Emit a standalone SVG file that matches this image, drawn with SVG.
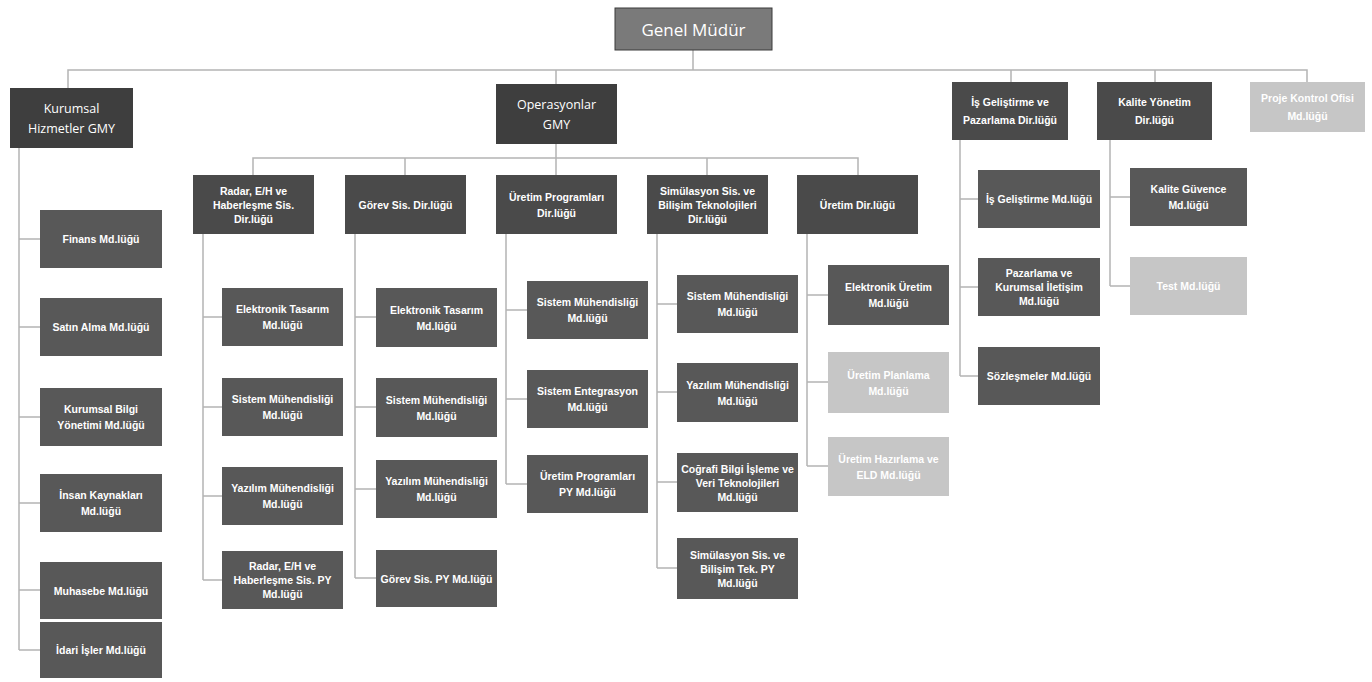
<svg xmlns="http://www.w3.org/2000/svg" width="1372" height="682" viewBox="0 0 1372 682">
<style>
.bg{fill:#ffffff}
.gm{fill:#7a7a7a;stroke:#3a3a3a;stroke-width:1}
.top{fill:#3e3e3e}
.dir{fill:#4a4a4a}
.md{fill:#585858}
.lt{fill:#c6c6c6}
.c{fill:none;stroke:#b4b4b4;stroke-width:1.5}
text{font-family:"Liberation Sans",Arial,sans-serif;font-weight:bold;fill:#ffffff;text-anchor:middle;dominant-baseline:central}
.t17{font-size:17px;font-weight:normal;font-family:"Open Sans","Liberation Sans",sans-serif}
.t12{font-size:12.5px;font-weight:normal;font-family:"Open Sans","Liberation Sans",sans-serif}
.t10{font-size:10.5px}
</style>
<rect class="bg" x="0" y="0" width="1372" height="682"/>

<g id="connectors">
<path class="c" d="M693,50 V70 M68,88 V70 H1307 V82 M556,70 V84 M1011,70 V82 M1155,70 V82"/>
<path class="c" d="M556,144 V158 M253,175 V158 H858 V175 M405,158 V175 M556,158 V175 M707,158 V175"/>
<path class="c" d="M19,148 V650 M19,239 H40 M19,327 H40 M19,417 H40 M19,503 H40 M19,590 H40 M19,650 H40"/>
<path class="c" d="M203,234 V580 M203,317 H222 M203,407 H222 M203,496 H222 M203,580 H222"/>
<path class="c" d="M355,234 V578 M355,317 H376 M355,407 H376 M355,489 H376 M355,578 H376"/>
<path class="c" d="M506,234 V484 M506,310 H527 M506,399 H527 M506,484 H527"/>
<path class="c" d="M657,234 V568 M657,304 H677 M657,392 H677 M657,482 H677 M657,568 H677"/>
<path class="c" d="M807,234 V466 M807,295 H828 M807,382 H828 M807,466 H828"/>
<path class="c" d="M960,140 V376 M960,199 H978 M960,287 H978 M960,376 H978"/>
<path class="c" d="M1110,140 V286 M1110,197 H1130 M1110,286 H1130"/>
</g>

<g id="genel-mudur"><rect class="gm" x="615" y="8" width="157" height="42"/><text class="t17" x="693.5" y="29">Genel Müdür</text></g>

<g id="kurumsal-gmy"><rect class="top" x="10" y="88" width="123" height="60"/><text class="t12" x="71.5" y="108">Kurumsal</text><text class="t12" x="71.5" y="128">Hizmetler GMY</text></g>
<g id="operasyonlar-gmy"><rect class="top" x="496" y="84" width="121" height="60"/><text class="t12" x="556.5" y="104">Operasyonlar</text><text class="t12" x="556.5" y="124">GMY</text></g>
<g id="is-gelistirme-dir"><rect class="dir" x="952" y="82" width="116" height="58"/><text class="t10" x="1010" y="102">İş Geliştirme ve</text><text class="t10" x="1010" y="120">Pazarlama Dir.lüğü</text></g>
<g id="kalite-dir"><rect class="dir" x="1097" y="82" width="115" height="58"/><text class="t10" x="1154.5" y="102">Kalite Yönetim</text><text class="t10" x="1154.5" y="120">Dir.lüğü</text></g>
<g id="proje-kontrol"><rect class="lt" x="1250" y="82" width="115" height="50"/><text class="t10" x="1307.5" y="98">Proje Kontrol Ofisi</text><text class="t10" x="1307.5" y="116">Md.lüğü</text></g>

<g id="finans"><rect class="md" x="40" y="210" width="122" height="58"/><text class="t10" x="101" y="239">Finans Md.lüğü</text></g>
<g id="satin-alma"><rect class="md" x="40" y="298" width="122" height="58"/><text class="t10" x="101" y="327">Satın Alma Md.lüğü</text></g>
<g id="kurumsal-bilgi"><rect class="md" x="40" y="388" width="122" height="58"/><text class="t10" x="101" y="409">Kurumsal Bilgi</text><text class="t10" x="101" y="425">Yönetimi Md.lüğü</text></g>
<g id="insan-kaynaklari"><rect class="md" x="40" y="474" width="122" height="58"/><text class="t10" x="101" y="495">İnsan Kaynakları</text><text class="t10" x="101" y="511">Md.lüğü</text></g>
<g id="muhasebe"><rect class="md" x="40" y="562" width="122" height="57"/><text class="t10" x="101" y="590.5">Muhasebe Md.lüğü</text></g>
<g id="idari-isler"><rect class="md" x="40" y="622" width="122" height="56"/><text class="t10" x="101" y="650">İdari İşler Md.lüğü</text></g>

<g id="radar-dir"><rect class="dir" x="193" y="175" width="121" height="59"/><text class="t10" x="253.5" y="190.5">Radar, E/H ve</text><text class="t10" x="253.5" y="204.5">Haberleşme Sis.</text><text class="t10" x="253.5" y="218.5">Dir.lüğü</text></g>
<g id="gorev-dir"><rect class="dir" x="345" y="175" width="121" height="59"/><text class="t10" x="405.5" y="204.5">Görev Sis. Dir.lüğü</text></g>
<g id="uretim-prog-dir"><rect class="dir" x="496" y="175" width="121" height="59"/><text class="t10" x="556.5" y="196.5">Üretim Programları</text><text class="t10" x="556.5" y="212.5">Dir.lüğü</text></g>
<g id="simulasyon-dir"><rect class="dir" x="647" y="175" width="121" height="59"/><text class="t10" x="707.5" y="190.5">Simülasyon Sis. ve</text><text class="t10" x="707.5" y="204.5">Bilişim Teknolojileri</text><text class="t10" x="707.5" y="218.5">Dir.lüğü</text></g>
<g id="uretim-dir"><rect class="dir" x="797" y="175" width="121" height="59"/><text class="t10" x="857.5" y="204.5">Üretim Dir.lüğü</text></g>

<g id="radar-elektronik"><rect class="md" x="222" y="288" width="121" height="58"/><text class="t10" x="282.5" y="309">Elektronik Tasarım</text><text class="t10" x="282.5" y="325">Md.lüğü</text></g>
<g id="radar-sistem"><rect class="md" x="222" y="378" width="121" height="58"/><text class="t10" x="282.5" y="399">Sistem Mühendisliği</text><text class="t10" x="282.5" y="415">Md.lüğü</text></g>
<g id="radar-yazilim"><rect class="md" x="222" y="467" width="121" height="58"/><text class="t10" x="282.5" y="488">Yazılım Mühendisliği</text><text class="t10" x="282.5" y="504">Md.lüğü</text></g>
<g id="radar-py"><rect class="md" x="222" y="551" width="121" height="58"/><text class="t10" x="282.5" y="566">Radar, E/H ve</text><text class="t10" x="282.5" y="580">Haberleşme Sis. PY</text><text class="t10" x="282.5" y="594">Md.lüğü</text></g>

<g id="gorev-elektronik"><rect class="md" x="376" y="288" width="121" height="59"/><text class="t10" x="436.5" y="309.5">Elektronik Tasarım</text><text class="t10" x="436.5" y="325.5">Md.lüğü</text></g>
<g id="gorev-sistem"><rect class="md" x="376" y="378" width="121" height="59"/><text class="t10" x="436.5" y="399.5">Sistem Mühendisliği</text><text class="t10" x="436.5" y="415.5">Md.lüğü</text></g>
<g id="gorev-yazilim"><rect class="md" x="376" y="460" width="121" height="58"/><text class="t10" x="436.5" y="481">Yazılım Mühendisliği</text><text class="t10" x="436.5" y="497">Md.lüğü</text></g>
<g id="gorev-py"><rect class="md" x="376" y="550" width="121" height="57"/><text class="t10" x="436.5" y="578.5">Görev Sis. PY Md.lüğü</text></g>

<g id="uretprog-sistem"><rect class="md" x="527" y="281" width="121" height="58"/><text class="t10" x="587.5" y="302">Sistem Mühendisliği</text><text class="t10" x="587.5" y="318">Md.lüğü</text></g>
<g id="uretprog-entegrasyon"><rect class="md" x="527" y="370" width="121" height="58"/><text class="t10" x="587.5" y="391">Sistem Entegrasyon</text><text class="t10" x="587.5" y="407">Md.lüğü</text></g>
<g id="uretprog-py"><rect class="md" x="527" y="455" width="121" height="58"/><text class="t10" x="587.5" y="476">Üretim Programları</text><text class="t10" x="587.5" y="492">PY Md.lüğü</text></g>

<g id="sim-sistem"><rect class="md" x="677" y="275" width="121" height="58"/><text class="t10" x="737.5" y="296">Sistem Mühendisliği</text><text class="t10" x="737.5" y="312">Md.lüğü</text></g>
<g id="sim-yazilim"><rect class="md" x="677" y="363" width="121" height="59"/><text class="t10" x="737.5" y="384.5">Yazılım Mühendisliği</text><text class="t10" x="737.5" y="400.5">Md.lüğü</text></g>
<g id="sim-cografi"><rect class="md" x="677" y="453" width="121" height="59"/><text class="t10" x="737.5" y="468.5">Coğrafi Bilgi İşleme ve</text><text class="t10" x="737.5" y="482.5">Veri Teknolojileri</text><text class="t10" x="737.5" y="496.5">Md.lüğü</text></g>
<g id="sim-py"><rect class="md" x="677" y="538" width="121" height="61"/><text class="t10" x="737.5" y="554.5">Simülasyon Sis. ve</text><text class="t10" x="737.5" y="568.5">Bilişim Tek. PY</text><text class="t10" x="737.5" y="582.5">Md.lüğü</text></g>

<g id="uretim-elektronik"><rect class="md" x="828" y="265" width="121" height="60"/><text class="t10" x="888.5" y="287">Elektronik Üretim</text><text class="t10" x="888.5" y="303">Md.lüğü</text></g>
<g id="uretim-planlama"><rect class="lt" x="828" y="352" width="121" height="61"/><text class="t10" x="888.5" y="374.5">Üretim Planlama</text><text class="t10" x="888.5" y="390.5">Md.lüğü</text></g>
<g id="uretim-hazirlama"><rect class="lt" x="828" y="437" width="121" height="59"/><text class="t10" x="888.5" y="458.5">Üretim Hazırlama ve</text><text class="t10" x="888.5" y="474.5">ELD Md.lüğü</text></g>

<g id="is-gelistirme-md"><rect class="md" x="978" y="170" width="122" height="58"/><text class="t10" x="1039" y="199">İş Geliştirme Md.lüğü</text></g>
<g id="pazarlama"><rect class="md" x="978" y="258" width="122" height="58"/><text class="t10" x="1039" y="273">Pazarlama ve</text><text class="t10" x="1039" y="287">Kurumsal İletişim</text><text class="t10" x="1039" y="301">Md.lüğü</text></g>
<g id="sozlesmeler"><rect class="md" x="978" y="347" width="122" height="58"/><text class="t10" x="1039" y="376">Sözleşmeler Md.lüğü</text></g>

<g id="kalite-guvence"><rect class="md" x="1130" y="168" width="117" height="58"/><text class="t10" x="1188.5" y="189">Kalite Güvence</text><text class="t10" x="1188.5" y="205">Md.lüğü</text></g>
<g id="test"><rect class="lt" x="1130" y="257" width="117" height="58"/><text class="t10" x="1188.5" y="286">Test Md.lüğü</text></g>
</svg>
